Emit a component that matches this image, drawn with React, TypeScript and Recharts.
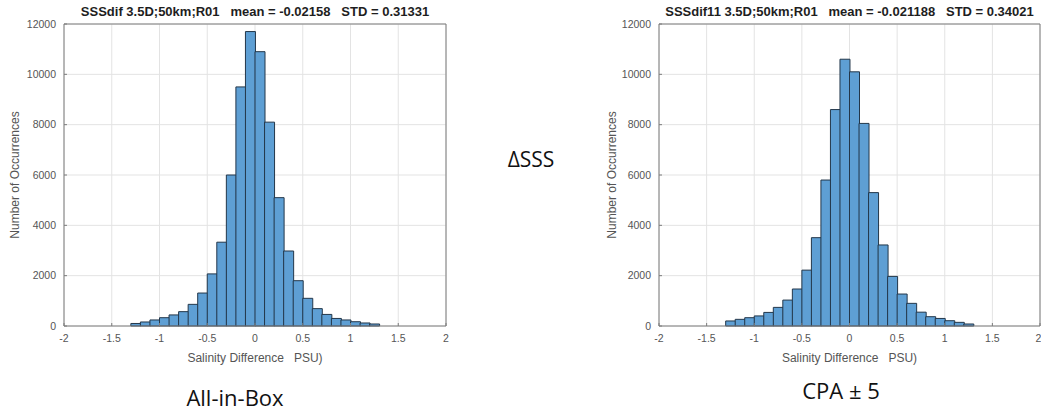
import React from "react";
import {
  BarChart,
  Bar,
  XAxis,
  YAxis,
  CartesianGrid,
  ReferenceLine,
} from "recharts";

// histogram bins, lower edge of each 0.1 PSU bin
const binStart = [
  -1.3, -1.2, -1.1, -1.0, -0.9, -0.8, -0.7, -0.6, -0.5, -0.4, -0.3, -0.2, -0.1,
  0.0, 0.1, 0.2, 0.3, 0.4, 0.5, 0.6, 0.7, 0.8, 0.9, 1.0, 1.1, 1.2,
];
const BIN_W = 0.1;

const countsAllInBox = [
  100, 160, 240, 330, 440, 570, 860, 1310, 2070, 3330, 6000, 9500, 11700,
  10900, 8100, 5100, 2980, 1800, 1100, 690, 460, 300, 240, 170, 120, 80,
];

const countsCpa = [
  200, 265, 330, 400, 540, 740, 1030, 1470, 2220, 3510, 5800, 8600, 10600,
  10100, 8050, 5300, 3220, 1970, 1270, 900, 550, 370, 300, 210, 145, 80,
];

const xTicks = [-2, -1.5, -1, -0.5, 0, 0.5, 1, 1.5, 2];
const yTicks = [0, 2000, 4000, 6000, 8000, 10000, 12000];

const titleAllInBox =
  "SSSdif 3.5D;50km;R01   mean = -0.02158   STD = 0.31331";
const titleCpa = "SSSdif11 3.5D;50km;R01   mean = -0.021188   STD = 0.34021";

const FONT = "'Liberation Sans', Arial, sans-serif";
const BAR_FILL = "#5e9fd4";
const BAR_EDGE = "#23374a";
const AXIS = "#7d7d7d";
const TICK = { fill: "#555", fontSize: 10.5, fontFamily: FONT };

interface HistProps {
  title: string;
  counts: number[];
  left: number;
  width: number;
  rightMargin: number;
  labelOffset: number;
}

const Histogram = ({
  title,
  counts,
  left,
  width,
  rightMargin,
  labelOffset,
}: HistProps) => {
  const height = 370;
  const axisW = 64;
  const data = binStart.map((b, i) => ({
    center: b + BIN_W / 2,
    count: counts[i],
  }));
  const plotW = width - axisW - rightMargin;

  return (
    <div style={{ position: "absolute", left, top: 0, width, height }}>
      <div
        style={{
          position: "absolute",
          left: axisW,
          width: plotW,
          top: 4,
          textAlign: "center",
          whiteSpace: "pre",
          fontFamily: FONT,
          fontWeight: "bold",
          fontSize: 13,
          color: "#1e1e1e",
        }}
      >
        {title}
      </div>
      <BarChart
        width={width}
        height={height}
        data={data}
        margin={{ top: 24, right: rightMargin, left: 0, bottom: 0 }}
        barCategoryGap={0}
        barGap={0}
      >
        <XAxis
          dataKey="center"
          type="number"
          domain={[-2, 2]}
          allowDataOverflow
          ticks={xTicks}
          height={44}
          tick={TICK}
          tickSize={-3}
          tickMargin={12}
          tickLine={{ stroke: AXIS }}
          axisLine={{ stroke: AXIS }}
          label={{
            value: "Salinity Difference\u00a0\u00a0\u00a0PSU)",
            position: "insideBottom",
            offset: 8,
            style: { fill: "#555", fontSize: 12, fontFamily: FONT },
          }}
        />
        <YAxis
          width={axisW}
          domain={[0, 12000]}
          ticks={yTicks}
          tick={TICK}
          tickSize={-3}
          tickMargin={11}
          tickLine={{ stroke: AXIS }}
          axisLine={{ stroke: AXIS }}
          label={{
            value: "Number of Occurrences",
            angle: -90,
            position: "insideLeft",
            offset: labelOffset,
            style: {
              textAnchor: "middle",
              fill: "#555",
              fontSize: 12,
              fontFamily: FONT,
            },
          }}
        />
        <CartesianGrid stroke="#e3e3e3" />
        <ReferenceLine y={12000} stroke={AXIS} />
        <ReferenceLine x={2} stroke={AXIS} />
        <Bar
          dataKey="count"
          fill={BAR_FILL}
          stroke={BAR_EDGE}
          strokeWidth={1}
          isAnimationActive={false}
        />
      </BarChart>
    </div>
  );
};

const caption = (
  text: string,
  cx: number,
  cy: number,
  size: number
): React.ReactNode => (
  <div
    style={{
      position: "absolute",
      left: cx - 100,
      width: 200,
      top: cy - size * 0.6,
      textAlign: "center",
      fontFamily: "'Open Sans', 'Noto Sans', sans-serif",
      fontSize: size,
      lineHeight: `${size * 1.2}px`,
      color: "#111",
    }}
  >
    {text}
  </div>
);

export default function App() {
  return (
    <div
      style={{
        position: "absolute",
        left: 0,
        top: 0,
        width: 1041,
        height: 412,
        overflow: "hidden",
        background: "#fff",
      }}
    >
      <Histogram
        title={titleAllInBox}
        counts={countsAllInBox}
        left={0}
        width={460}
        rightMargin={14}
        labelOffset={15}
      />
      <Histogram
        title={titleCpa}
        counts={countsCpa}
        left={595}
        width={446}
        rightMargin={1}
        labelOffset={17}
      />
      {caption("All-in-Box", 235, 397, 22)}
      {caption("CPA \u00b1 5", 841, 390, 22)}
      {caption("\u0394SSS", 531, 160, 21)}
    </div>
  );
}
